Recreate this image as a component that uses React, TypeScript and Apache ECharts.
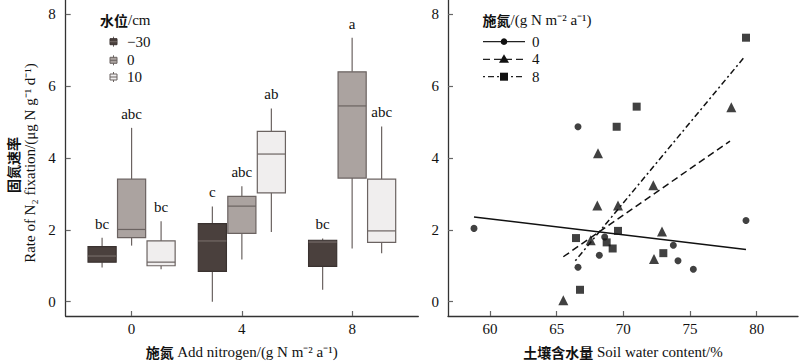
import React, { useEffect, useRef } from "react";
import * as echarts from "echarts";

// ---------- Data ----------
const nitrogenLevels = [0, 4, 8];
const waterLevels = ["−30", "0", "10"];
// box stats per nitrogen level: [min, q1, median, q3, max]
const boxWaterM30 = [
  [0.95, 1.1, 1.27, 1.53, 1.78],
  [0.0, 0.84, 1.69, 2.17, 2.65],
  [0.33, 0.98, 1.66, 1.71, 1.76],
];
const boxWater0 = [
  [1.56, 1.78, 2.01, 3.41, 4.84],
  [1.17, 1.9, 2.66, 2.93, 3.21],
  [1.48, 3.44, 5.45, 6.4, 7.35],
];
const boxWater10 = [
  [0.9, 1.0, 1.1, 1.69, 2.24],
  [1.94, 3.03, 4.11, 4.74, 5.38],
  [1.35, 1.65, 1.97, 3.41, 4.88],
];
const lettersM30 = ["bc", "c", "bc"];
const letters0 = ["abc", "abc", "a"];
const letters10 = ["bc", "ab", "abc"];

const yTicks = [0, 2, 4, 6, 8];
const swcTicks = [60, 65, 70, 75, 80];

// scatter: [soil water content %, rate]
const pointsN0 = [
  [58.8, 2.04], [66.6, 4.87], [66.6, 0.96], [68.2, 1.29], [68.6, 1.8],
  [73.75, 1.57], [74.1, 1.14], [75.25, 0.9], [79.2, 2.26],
];
const pointsN4 = [
  [68.1, 4.13], [68.05, 2.68], [69.6, 2.68], [72.25, 3.24], [78.1, 5.41],
  [67.55, 1.71], [72.9, 1.95], [72.3, 1.19], [65.5, 0.04],
];
const pointsN8 = [
  [79.2, 7.35], [71.0, 5.43], [69.5, 4.87], [69.6, 1.97], [66.45, 1.77],
  [68.75, 1.65], [69.2, 1.48], [73.0, 1.35], [66.75, 0.33],
];
// fitted lines: two end points
const fitN0 = [[58.8, 2.36], [79.2, 1.45]];
const fitN4 = [[65.5, 1.25], [78.0, 4.47]];
const fitN8 = [[66.4, 1.14], [79.1, 6.82]];
const nitrogenLegend = ["0", "4", "8"];

// ---------- Styles ----------
const FONT = "'Liberation Serif', 'Noto Sans CJK SC', serif";
const CN = "'Noto Sans CJK SC', sans-serif";
const TEXT = "#111";
const AXIS = "#333";
const boxFill = ["#4a403d", "#aba3a0", "#f0eeee"];
const boxStroke = ["#3a3230", "#6b6361", "#6b6361"];
const medianColor = ["#746a67", "#6b6361", "#6b6361"];
const whiskerColor = "#6b6361";
const boxOffset = 1.07; // data units between boxes in a group
const boxWidthUnits = 1.02;

const boxSets = [boxWaterM30, boxWater0, boxWater10];
const letterSets = [lettersM30, letters0, letters10];

export default function App() {
  const ref = useRef<HTMLDivElement>(null);

  useEffect(() => {
    if (!ref.current) return;
    const chart = echarts.init(ref.current, undefined, { renderer: "svg" });

    const boxSeries = boxSets.map((set, si) => ({
      type: "custom",
      name: waterLevels[si],
      xAxisIndex: 0,
      yAxisIndex: 0,
      clip: false,
      encode: { x: 0, y: [1, 2, 3, 4, 5] },
      data: set.map((s, i) => [nitrogenLevels[i], ...s]),
      renderItem: (params: any, api: any) => {
        const x = api.value(0) + (si - 1) * boxOffset;
        const vmin = api.value(1), q1 = api.value(2), med = api.value(3), q3 = api.value(4), vmax = api.value(5);
        const pMin = api.coord([x, vmin]);
        const pQ1 = api.coord([x, q1]);
        const pMed = api.coord([x, med]);
        const pQ3 = api.coord([x, q3]);
        const pMax = api.coord([x, vmax]);
        const w = api.size([boxWidthUnits, 0])[0];
        const cx = pMin[0];
        return {
          type: "group",
          children: [
            { type: "line", shape: { x1: cx, y1: pMin[1], x2: cx, y2: pQ1[1] }, style: { stroke: whiskerColor, lineWidth: 1.2 } },
            { type: "line", shape: { x1: cx, y1: pQ3[1], x2: cx, y2: pMax[1] }, style: { stroke: whiskerColor, lineWidth: 1.2 } },
            {
              type: "rect",
              shape: { x: cx - w / 2, y: pQ3[1], width: w, height: pQ1[1] - pQ3[1] },
              style: { fill: boxFill[si], stroke: boxStroke[si], lineWidth: 1.2 },
            },
            { type: "line", shape: { x1: cx - w / 2, y1: pMed[1], x2: cx + w / 2, y2: pMed[1] }, style: { stroke: medianColor[si], lineWidth: 1.2 } },
            {
              type: "text",
              style: {
                x: cx, y: pMax[1] - 14, text: letterSets[si][params.dataIndex],
                align: "center", verticalAlign: "middle", fontSize: 15, fontFamily: FONT, fill: TEXT,
              },
            },
          ],
        };
      },
    }));

    const axisCommon = {
      axisLine: { show: true, onZero: false, lineStyle: { color: AXIS, width: 1.3 } },
      axisTick: { show: true, inside: true, length: 5, lineStyle: { color: "#666", width: 1.2 } },
      splitLine: { show: false },
      axisLabel: { color: TEXT, fontSize: 15, fontFamily: FONT },
    };

    const scatterCommon = { type: "scatter", xAxisIndex: 1, yAxisIndex: 1, itemStyle: { color: "#111" }, z: 3 };
    const lineCommon = { type: "line", xAxisIndex: 1, yAxisIndex: 1, symbol: "none", z: 2 };

    const legendLines = [
      { dash: undefined as any, marker: "circle" },
      { dash: [7, 4], marker: "triangle" },
      { dash: [2, 3, 6, 3], marker: "rect" },
    ];
    const legendY = [41.7, 59.3, 76.7];
    const rightLegend: any[] = [];
    legendLines.forEach((l, i) => {
      const y = legendY[i];
      rightLegend.push({
        type: "line", shape: { x1: 483, y1: y, x2: 525, y2: y },
        style: { stroke: "#222", lineWidth: 1.3, lineDash: l.dash },
      });
      if (l.marker === "circle") rightLegend.push({ type: "circle", shape: { cx: 504, cy: y, r: 3.3 }, style: { fill: "#111" } });
      if (l.marker === "triangle") rightLegend.push({ type: "polygon", shape: { points: [[504, y - 5], [509, y + 3.5], [499, y + 3.5]] }, style: { fill: "#111" } });
      if (l.marker === "rect") rightLegend.push({ type: "rect", shape: { x: 500, y: y - 4, width: 8, height: 8 }, style: { fill: "#111" } });
      rightLegend.push({
        type: "text", style: { x: 532, y, text: nitrogenLegend[i], fontSize: 15, fontFamily: FONT, fill: TEXT, verticalAlign: "middle" },
      });
    });

    const leftLegendY = [41.7, 60.3, 77];
    const leftLegend: any[] = [];
    waterLevels.forEach((wl, i) => {
      const y = leftLegendY[i];
      const cx = 113.5;
      leftLegend.push({ type: "line", shape: { x1: cx, y1: y - 5, x2: cx, y2: y + 5 }, style: { stroke: whiskerColor, lineWidth: 1 } });
      leftLegend.push({ type: "rect", shape: { x: cx - 3.5, y: y - 3, width: 7, height: 6 }, style: { fill: boxFill[i], stroke: boxStroke[i], lineWidth: 1 } });
      leftLegend.push({ type: "line", shape: { x1: cx - 3.5, y1: y, x2: cx + 3.5, y2: y }, style: { stroke: medianColor[i], lineWidth: 1 } });
      leftLegend.push({ type: "text", style: { x: 127, y, text: wl, fontSize: 15, fontFamily: FONT, fill: TEXT, verticalAlign: "middle" } });
    });

    const cnRich = { cn: { fontFamily: CN, fontWeight: "bold", fontSize: 14, fill: TEXT } };

    chart.setOption({
      animation: false,
      backgroundColor: "#fff",
      grid: [
        { left: 65.7, top: 0, width: 352.6, height: 319, containLabel: false },
        { left: 448, top: 0, width: 350, height: 319, containLabel: false },
      ],
      xAxis: [
        {
          ...axisCommon, type: "value", gridIndex: 0, min: -2.39, max: 10.4,
          axisTick: { ...axisCommon.axisTick, customValues: nitrogenLevels },
          axisLabel: { ...axisCommon.axisLabel, customValues: nitrogenLevels, margin: 5 },
          name: "{cn|施氮} Add nitrogen/(g N m⁻² a⁻¹)", nameLocation: "middle", nameGap: 28,
          nameTextStyle: { fontSize: 15, fontFamily: FONT, color: TEXT, rich: cnRich },
        },
        {
          ...axisCommon, type: "value", gridIndex: 1, min: 56.85, max: 83.1,
          axisTick: { ...axisCommon.axisTick, customValues: swcTicks },
          axisLabel: { ...axisCommon.axisLabel, customValues: swcTicks, margin: 5 },
          name: "{cn|土壤含水量} Soil water content/%", nameLocation: "middle", nameGap: 28,
          nameTextStyle: { fontSize: 15, fontFamily: FONT, color: TEXT, rich: cnRich },
        },
      ],
      yAxis: [
        {
          ...axisCommon, type: "value", gridIndex: 0, min: -0.4, max: 8.4,
          axisTick: { ...axisCommon.axisTick, customValues: yTicks },
          axisLabel: { ...axisCommon.axisLabel, customValues: yTicks, margin: 10 },
        },
        {
          ...axisCommon, type: "value", gridIndex: 1, min: -0.4, max: 8.4,
          axisTick: { ...axisCommon.axisTick, customValues: yTicks },
          axisLabel: { ...axisCommon.axisLabel, customValues: yTicks, margin: 9 },
        },
      ],
      series: [
        ...boxSeries,
        { ...scatterCommon, name: "N0", symbol: "circle", symbolSize: 7, data: pointsN0 },
        { ...scatterCommon, name: "N4", symbol: "triangle", symbolSize: 10, data: pointsN4 },
        { ...scatterCommon, name: "N8", symbol: "rect", symbolSize: 8, data: pointsN8 },
        { ...lineCommon, name: "fit0", data: fitN0, lineStyle: { color: "#111", width: 1.5, type: "solid" } },
        { ...lineCommon, name: "fit4", data: fitN4, lineStyle: { color: "#111", width: 1.5, type: [7, 4] } },
        { ...lineCommon, name: "fit8", data: fitN8, lineStyle: { color: "#111", width: 1.5, type: [2, 3, 6, 3] } },
      ],
      graphic: [
        {
          type: "text", x: 12.7, y: 165, rotation: Math.PI / 2,
          style: { text: "固氮速率", fontSize: 14, fontFamily: CN, fontWeight: "bold", fill: TEXT, align: "center", verticalAlign: "middle" },
        },
        {
          type: "text", x: 29.5, y: 163, rotation: Math.PI / 2,
          style: { text: "Rate of N₂ fixation/(μg N g⁻¹ d⁻¹)", fontSize: 15, fontFamily: FONT, fill: TEXT, align: "center", verticalAlign: "middle" },
        },
        {
          type: "text", x: 100, y: 20,
          style: { text: "{cn|水位}/cm", fontSize: 15, fontFamily: FONT, fill: TEXT, verticalAlign: "middle", rich: cnRich },
        },
        {
          type: "text", x: 482.5, y: 20,
          style: { text: "{cn|施氮}/(g N m⁻² a⁻¹)", fontSize: 15, fontFamily: FONT, fill: TEXT, verticalAlign: "middle", rich: cnRich },
        },
        ...leftLegend,
        ...rightLegend,
      ],
    });

    return () => chart.dispose();
  }, []);

  return <div ref={ref} style={{ width: 800, height: 364, position: "absolute", left: 0, top: 0 }} />;
}
